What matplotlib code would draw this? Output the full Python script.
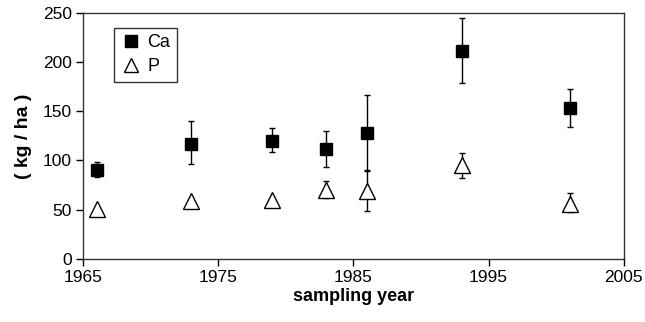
import numpy as np
import matplotlib
matplotlib.use('Agg')
import matplotlib.pyplot as plt
from matplotlib.lines import Line2D

plt.rcParams['font.family'] = ['Liberation Sans', 'DejaVu Sans']

# Data
years = [1966, 1973, 1979, 1983, 1986, 1993, 2001]
ca = [90, 117, 120, 112, 128, 211, 153]
ca_lo = [83, 96, 109, 93, 90, 179, 134]
ca_hi = [98, 140, 133, 130, 167, 245, 173]
p = [51, 59, 60, 70, 69, 95, 56]
p_lo = [51, 59, 60, 62, 49, 82, 48]
p_hi = [51, 59, 60, 79, 89, 108, 67]

ca = np.array(ca)
p = np.array(p)
ca_err = [ca - np.array(ca_lo), np.array(ca_hi) - ca]
p_err = [p - np.array(p_lo), np.array(p_hi) - p]

fig = plt.figure(figsize=(6.45, 3.22), dpi=100)
ax = fig.add_axes([0.129, 0.196, 0.838, 0.764])

ax.errorbar(years, ca, yerr=ca_err, fmt='s', color='black', markersize=8,
            elinewidth=1, capsize=2.5, capthick=1)
ax.errorbar(years, p, yerr=p_err, fmt='^', color='black', mfc='white', mec='black',
            markersize=11, mew=1, elinewidth=1, capsize=2.5, capthick=1)

ax.set_xlim(1965, 2005)
ax.set_ylim(0, 250)
ax.set_xticks([1965, 1975, 1985, 1995, 2005])
ax.set_yticks([0, 50, 100, 150, 200, 250])
ax.tick_params(direction='out', length=5, width=1, labelsize=12.5, pad=3)
for s in ax.spines.values():
    s.set_linewidth(1)
    s.set_color('#333333')

ax.set_xlabel('sampling year', fontsize=13, fontweight='bold', labelpad=2)
ax.set_ylabel('( kg / ha )', fontsize=14, fontweight='bold', labelpad=8)

handles = [Line2D([], [], marker='s', ls='none', color='black', markersize=8),
           Line2D([], [], marker='^', ls='none', mfc='white', mec='black', markersize=10)]
leg = ax.legend(handles, ['Ca', 'P'], loc='upper left', bbox_to_anchor=(0.057, 0.94),
                fontsize=13, frameon=True, fancybox=False, edgecolor='black',
                handletextpad=0.3, handlelength=1.2, borderpad=0.35, labelspacing=0.4,
                borderaxespad=0)
leg.get_frame().set_linewidth(1)

fig.savefig('out.png', dpi=100)
